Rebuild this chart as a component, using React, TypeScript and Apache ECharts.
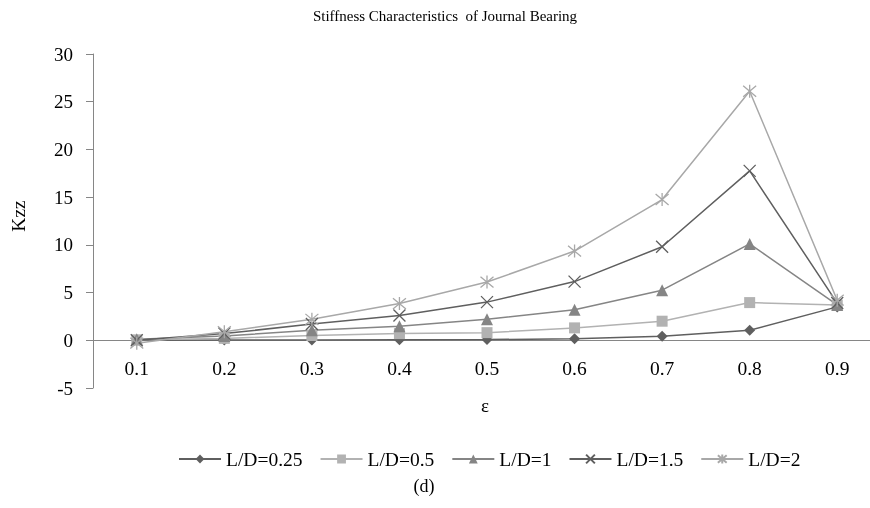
import React, { useEffect, useRef } from "react";
import * as echarts from "echarts";

const categories = ["0.1", "0.2", "0.3", "0.4", "0.5", "0.6", "0.7", "0.8", "0.9"];
const ld025 = [0.0, 0.03, 0.04, 0.05, 0.07, 0.17, 0.42, 1.05, 3.5];
const ld05 = [0.05, 0.2, 0.5, 0.7, 0.8, 1.3, 2.0, 3.95, 3.7];
const ld1 = [0.1, 0.45, 1.05, 1.47, 2.2, 3.2, 5.25, 10.1, 3.7];
const ld15 = [0.0, 0.7, 1.7, 2.6, 4.0, 6.15, 9.8, 17.75, 3.9];
const ld2 = [-0.3, 0.9, 2.2, 3.85, 6.1, 9.35, 14.75, 26.1, 4.2];

const FONT = "'Liberation Serif', 'Times New Roman', serif";
const X_PATH = "path://M0,0L10,10M10,0L0,10";
const STAR_PATH = "path://M0,0L10,10M10,0L0,10M5,-1L5,11";

export default function App() {
  const ref = useRef<HTMLDivElement>(null);
  useEffect(() => {
    if (!ref.current) return;
    const chart = echarts.init(ref.current, null, { renderer: "svg" });
    const mk = (name: string, data: number[], color: string, symbol: string, size: number, open: boolean) => ({
      name,
      type: "line",
      data,
      symbol,
      symbolSize: size,
      showSymbol: true,
      lineStyle: { color, width: 1.5 },
      itemStyle: open
        ? { color: "rgba(0,0,0,0)", borderColor: color, borderWidth: 1.3 }
        : { color, borderWidth: 0 },
      emphasis: { disabled: true },
    });
    chart.setOption({
      animation: false,
      textStyle: { fontFamily: FONT },
      title: {
        text: "Stiffness Characteristics  of Journal Bearing",
        left: 440,
        top: 3,
        textAlign: "center",
        textStyle: { fontFamily: FONT, fontSize: 15, fontWeight: "normal", color: "#000" },
      },
      grid: { left: 93, width: 788, top: 54, height: 334, containLabel: false, outerBoundsMode: "none" },
      legend: {
        top: 449,
        left: 178,
        padding: 0,
        itemWidth: 42,
        itemHeight: 11,
        itemGap: 17,
        textStyle: { fontFamily: FONT, fontSize: 19.5, color: "#000" },
        data: ["L/D=0.25", "L/D=0.5", "L/D=1", "L/D=1.5", "L/D=2"],
      },
      xAxis: {
        type: "category",
        data: categories,
        boundaryGap: true,
        axisLine: { show: true, onZero: true, lineStyle: { color: "#868686", width: 1 } },
        axisTick: { show: false },
        axisLabel: { fontFamily: FONT, fontSize: 19.5, color: "#000", margin: -30 },
        splitLine: { show: false },
      },
      yAxis: {
        type: "value",
        min: -5,
        max: 30,
        interval: 5,
        axisLine: { show: true, lineStyle: { color: "#868686", width: 1 } },
        axisTick: { show: true, inside: false, length: 7, lineStyle: { color: "#868686" } },
        axisLabel: { fontFamily: FONT, fontSize: 19, color: "#000", margin: 20 },
        splitLine: { show: false },
      },
      graphic: [
        {
          type: "text",
          x: 18,
          y: 216,
          rotation: Math.PI / 2,
          style: { text: "Kzz", font: `19.5px ${FONT}`, fill: "#000", textAlign: "center", textVerticalAlign: "middle" },
        },
        {
          type: "text",
          x: 485,
          y: 405,
          style: { text: "ε", font: `19px ${FONT}`, fill: "#000", textAlign: "center", textVerticalAlign: "middle" },
        },
        {
          type: "text",
          x: 424,
          y: 486,
          style: { text: "(d)", font: `18px ${FONT}`, fill: "#000", textAlign: "center", textVerticalAlign: "middle" },
        },
      ],
      series: [
        mk("L/D=0.25", ld025, "#5f5f5f", "diamond", 11, false),
        mk("L/D=0.5", ld05, "#b2b2b2", "rect", 11, false),
        mk("L/D=1", ld1, "#858585", "triangle", 12, false),
        mk("L/D=1.5", ld15, "#5f5f5f", X_PATH, 12, true),
        mk("L/D=2", ld2, "#a8a8a8", STAR_PATH, 13, true),
      ],
    });
    return () => chart.dispose();
  }, []);
  return <div ref={ref} style={{ position: "fixed", left: 0, top: 0, width: 870, height: 508, overflow: "hidden" }} />;
}
